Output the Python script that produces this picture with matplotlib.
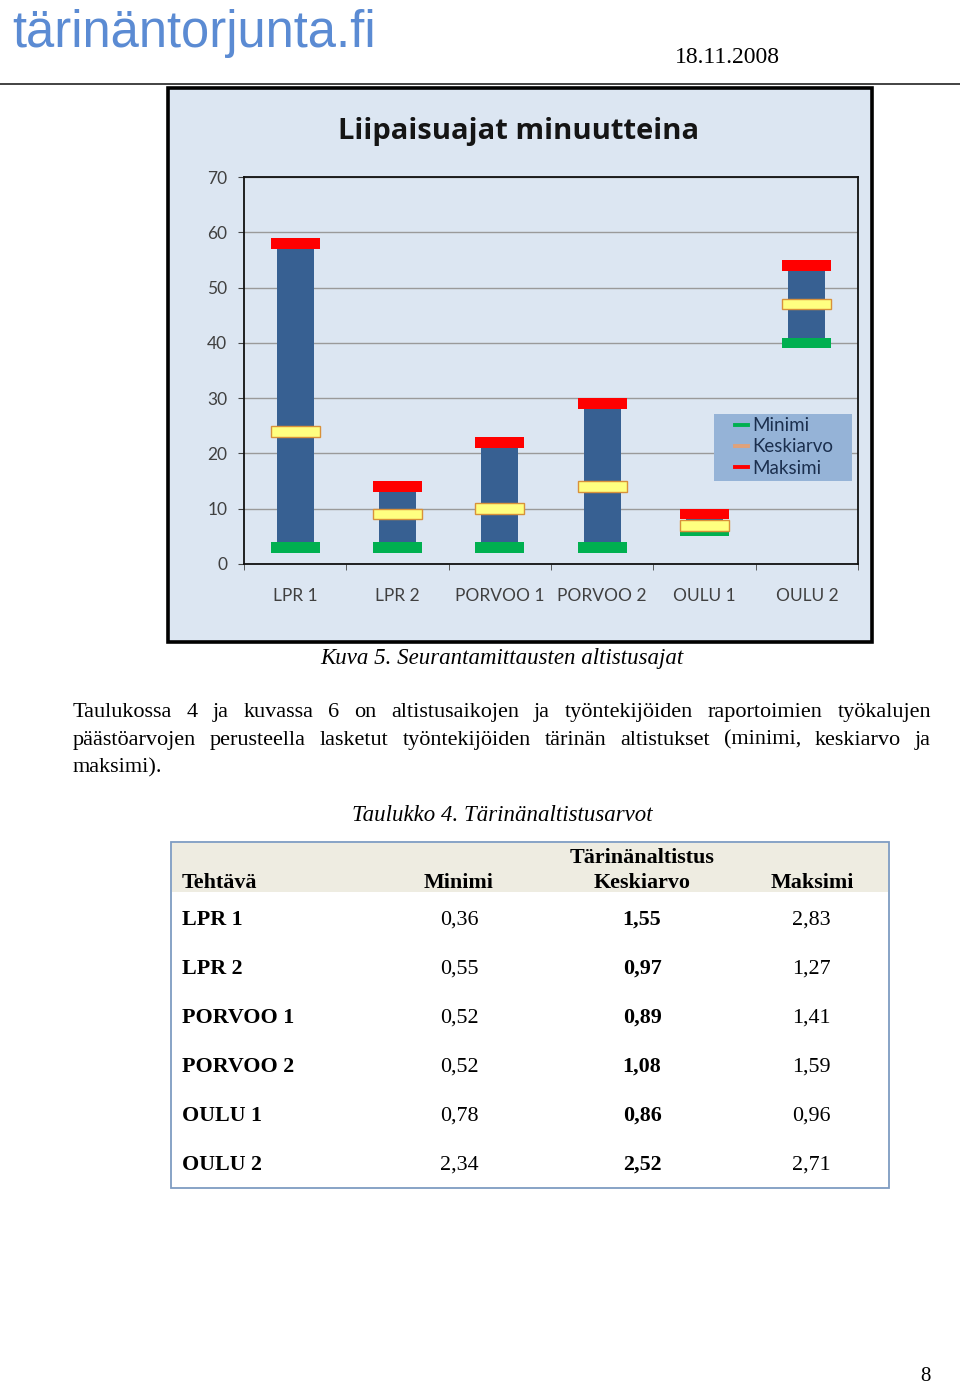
import matplotlib
matplotlib.use('Agg')
import matplotlib.pyplot as plt
from matplotlib.patches import Rectangle
from matplotlib.lines import Line2D

# ---------------- data ----------------
categories = ['LPR 1', 'LPR 2', 'PORVOO 1', 'PORVOO 2', 'OULU 1', 'OULU 2']
minimi = [3, 3, 3, 3, 6, 40]
keskiarvo = [24, 9, 10, 14, 7, 47]
maksimi = [58, 14, 22, 29, 9, 54]
yticks = [0, 10, 20, 30, 40, 50, 60, 70]
legend_labels = ['Minimi', 'Keskiarvo', 'Maksimi']

table_header = ['Tehtävä', 'Minimi', 'Keskiarvo', 'Maksimi']
table_group = 'Tärinänaltistus'
table_tasks = ['LPR 1', 'LPR 2', 'PORVOO 1', 'PORVOO 2', 'OULU 1', 'OULU 2']
table_min = ['0,36', '0,55', '0,52', '0,52', '0,78', '2,34']
table_avg = ['1,55', '0,97', '0,89', '1,08', '0,86', '2,52']
table_max = ['2,83', '1,27', '1,41', '1,59', '0,96', '2,71']

paragraph_lines = [
    'Taulukossa 4 ja kuvassa 6 on altistusaikojen ja työntekijöiden raportoimien työkalujen',
    'päästöarvojen perusteella lasketut työntekijöiden tärinän altistukset (minimi, keskiarvo ja',
    'maksimi).',
]

# ---------------- layout helpers ----------------
W, H = 960, 1388
fig = plt.figure(figsize=(W / 100, H / 100), dpi=100)
fig.patch.set_facecolor('white')


def fx(x):
    return x / W


def fy(y):
    return 1 - y / H


SERIF = ['Liberation Serif', 'DejaVu Serif']
CHARTF = ['Lato', 'DejaVu Sans']

# header
fig.text(fx(12), fy(47), 'tärinäntorjunta.fi', family=['Liberation Sans'],
         fontsize=36.5, color='#5B8BD3', ha='left', va='baseline')
fig.text(fx(675), fy(63), '18.11.2008', family=SERIF, fontsize=17,
         color='black', ha='left', va='baseline')
fig.add_artist(Line2D([0, 1], [fy(84), fy(84)], transform=fig.transFigure,
                      color='#222222', lw=1.2))

# chart background
fig.add_artist(Rectangle((fx(168), fy(642)), (872 - 168) / W, (642 - 88) / H,
                         transform=fig.transFigure, facecolor='#DCE6F2',
                         edgecolor='black', lw=2.6, zorder=-5))

fig.text(fx(519), fy(139), 'Liipaisuajat minuutteina',
         family=['Open Sans', 'DejaVu Sans'],
         fontsize=21, fontweight='bold', color='#151515', ha='center',
         va='baseline')

ax = fig.add_axes([fx(244), fy(564), 614 / W, 387 / H])
ax.set_facecolor('#DCE6F2')
x = list(range(len(categories)))
ax.set_xlim(-0.5, len(categories) - 0.5)
ax.set_ylim(0, 70)
ax.set_yticks(yticks)
ax.yaxis.grid(True, color='#9A9A9A', lw=1.0)
ax.set_axisbelow(True)
for s in ax.spines.values():
    s.set_color('#111111')
    s.set_linewidth(1.3)

heights = [mx - mn for mx, mn in zip(maksimi, minimi)]
ax.bar(x, heights, bottom=minimi, width=0.36, color='#376092', zorder=2)

mh = 1.9  # marker thickness in data units
ax.bar(x, mh, bottom=[v - mh / 2 for v in minimi], width=0.48,
       color='#00B050', zorder=3)
ax.bar(x, mh, bottom=[v - mh / 2 for v in keskiarvo], width=0.48,
       color='#FFFF80', edgecolor='#D8913A', lw=1.0, zorder=4)
ax.bar(x, mh, bottom=[v - mh / 2 for v in maksimi], width=0.48,
       color='#FF0000', zorder=5)

ax.set_xticks(x)
ax.set_xticklabels(categories)
ax.set_xticks([i - 0.5 for i in range(len(categories) + 1)], minor=True)
ax.tick_params(axis='x', which='major', length=0, pad=17, labelsize=12.5,
               labelcolor='#404040')
ax.tick_params(axis='x', which='minor', length=4, direction='out',
               color='#444444')
ax.tick_params(axis='y', length=4, direction='out', pad=8, labelsize=12.5,
               labelcolor='#404040', color='#444444')
for lab in ax.get_xticklabels() + ax.get_yticklabels():
    lab.set_family(CHARTF)

# legend box
fig.add_artist(Rectangle((fx(714), fy(481)), (852 - 714) / W, (481 - 414) / H,
                         transform=fig.transFigure, facecolor='#95B3D7',
                         edgecolor='none', zorder=6))
handles = [Line2D([], [], color='#00B050', lw=2.8),
           Line2D([], [], color='#E0A27A', lw=2.8),
           Line2D([], [], color='#FF0000', lw=2.8)]
leg = fig.legend(handles, legend_labels, loc='center',
                 bbox_to_anchor=(fx(784), fy(447)),
                 bbox_transform=fig.transFigure, frameon=False,
                 handlelength=0.7, handletextpad=0.2, labelspacing=0.22,
                 prop={'family': CHARTF, 'size': 13.5})
leg.set_zorder(8)
for t in leg.get_texts():
    t.set_color('#1B2F4E')

# caption
fig.text(fx(502), fy(664), 'Kuva 5. Seurantamittausten altistusajat',
         family=SERIF, style='italic', fontsize=16.5, ha='center',
         va='baseline')

# justified paragraph
PS = 16
renderer = fig.canvas.get_renderer()
para_y = [717, 744.5, 772]
for i, (line, y) in enumerate(zip(paragraph_lines, para_y)):
    words = line.split(' ')
    texts = [fig.text(0, 0, w, family=SERIF, fontsize=PS, ha='left',
                      va='baseline') for w in words]
    widths = [t.get_window_extent(renderer).width for t in texts]
    if i < len(paragraph_lines) - 1 and len(words) > 1:
        gap = (931 - 73 - sum(widths)) / (len(words) - 1)
    else:
        gap = 5.5
    xx = 73
    for t, w in zip(texts, widths):
        t.set_position((fx(xx), fy(y)))
        xx += w + gap

fig.text(fx(502), fy(821), 'Taulukko 4. Tärinänaltistusarvot',
         family=SERIF, style='italic', fontsize=16.5, ha='center',
         va='baseline')

# table
fig.add_artist(Rectangle((fx(172), fy(892)), (888 - 172) / W, (892 - 843) / H,
                         transform=fig.transFigure, facecolor='#EEECE1',
                         edgecolor='none', zorder=1))
fig.add_artist(Rectangle((fx(171), fy(1188)), (889 - 171) / W, (1188 - 842) / H,
                         transform=fig.transFigure, facecolor='none',
                         edgecolor='#7E9CC2', lw=1.3, zorder=2))
col_x = [182, 459, 642, 812]
TS = 15.8
fig.text(fx(col_x[0]), fy(888), table_header[0], family=SERIF, fontsize=TS,
         fontweight='bold', ha='left', va='baseline')
fig.text(fx(col_x[1]), fy(888), table_header[1], family=SERIF, fontsize=TS,
         fontweight='bold', ha='center', va='baseline')
fig.text(fx(col_x[2]), fy(863), table_group, family=SERIF, fontsize=TS,
         fontweight='bold', ha='center', va='baseline')
fig.text(fx(col_x[2]), fy(888), table_header[2], family=SERIF, fontsize=TS,
         fontweight='bold', ha='center', va='baseline')
fig.text(fx(col_x[3]), fy(888), table_header[3], family=SERIF, fontsize=TS,
         fontweight='bold', ha='center', va='baseline')

for i, (task, mn, av, mx) in enumerate(zip(table_tasks, table_min,
                                            table_avg, table_max)):
    y = 925 + 49 * i
    fig.text(fx(col_x[0]), fy(y), task, family=SERIF, fontsize=TS,
             fontweight='bold', ha='left', va='baseline')
    fig.text(fx(col_x[1]), fy(y), mn, family=SERIF, fontsize=TS,
             ha='center', va='baseline')
    fig.text(fx(col_x[2]), fy(y), av, family=SERIF, fontsize=TS,
             fontweight='bold', ha='center', va='baseline')
    fig.text(fx(col_x[3] - 1), fy(y), mx, family=SERIF, fontsize=TS,
             ha='center', va='baseline')

fig.text(fx(925), fy(1381), '8', family=SERIF, fontsize=15, ha='center',
         va='baseline')

fig.savefig('out.png', dpi=100, facecolor='white')
